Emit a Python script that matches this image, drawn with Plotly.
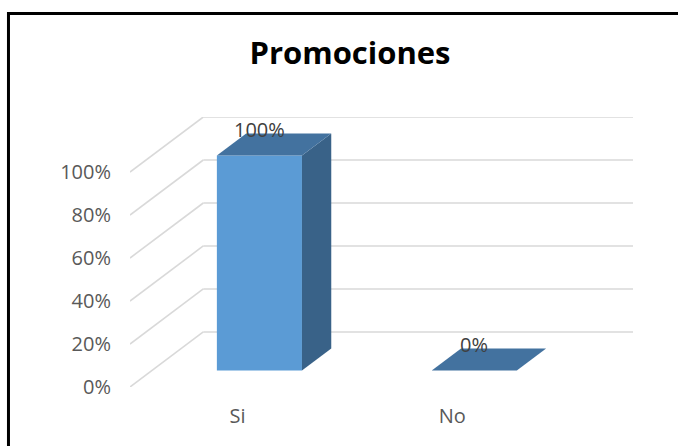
import plotly.graph_objects as go

# Chart data
categories = ["Si", "No"]
values = [1.0, 0.0]
tick_values = [0.0, 0.2, 0.4, 0.6, 0.8, 1.0]

# Oblique-projection geometry (in axis units)
DX = 0.341          # horizontal shift of the full floor depth, category units
DY = 0.256          # vertical shift of the full floor depth, value units
FRONT, BACK = 0.3, 0.7   # depth band occupied by the columns
BAR_W = 0.396       # column width, category units

FRONT_COLOR = "#5B9BD5"
SIDE_COLOR = "#396288"
TOP_COLOR = "#43729F"
GRID_COLOR = "#D9D9D9"
FONT = "Open Sans"

X_MIN, X_MAX = -0.5, len(categories) - 0.5 + DX
Y_MAX = max(tick_values) + DY

fig = go.Figure()

# Wall gridlines (drawn beneath the columns): diagonal on the side wall,
# horizontal on the back wall
for v in tick_values:
    fig.add_shape(type="line", xref="x", yref="y", layer="below",
                  x0=X_MIN, y0=v, x1=X_MIN + DX, y1=v + DY,
                  line=dict(color=GRID_COLOR, width=1.6))
    fig.add_shape(type="line", xref="x", yref="y", layer="below",
                  x0=X_MIN + DX, y0=v + DY, x1=X_MAX, y1=v + DY,
                  line=dict(color=GRID_COLOR, width=1.6))

# Side and top faces of each column
for i, v in enumerate(values):
    cx = i + FRONT * DX
    left, right = cx - BAR_W / 2, cx + BAR_W / 2
    base = FRONT * DY
    ddx, ddy = (BACK - FRONT) * DX, (BACK - FRONT) * DY
    if v > 0:
        fig.add_trace(go.Scatter(
            x=[right, right + ddx, right + ddx, right, right],
            y=[base, base + ddy, base + v + ddy, base + v, base],
            mode="lines", fill="toself", fillcolor=SIDE_COLOR,
            line=dict(width=0, color=SIDE_COLOR), hoverinfo="skip"))
    fig.add_trace(go.Scatter(
        x=[left, right, right + ddx, left + ddx, left],
        y=[base + v, base + v, base + v + ddy, base + v + ddy, base + v],
        mode="lines", fill="toself", fillcolor=TOP_COLOR,
        line=dict(width=0, color=TOP_COLOR), hoverinfo="skip"))

# Front faces of the columns
fig.add_trace(go.Bar(
    x=[i + FRONT * DX for i in range(len(categories))],
    y=values,
    base=[FRONT * DY] * len(values),
    width=BAR_W,
    marker=dict(color=FRONT_COLOR, line=dict(width=0)),
    hoverinfo="skip"))

# Value labels above each column
for i, v in enumerate(values):
    fig.add_annotation(
        x=i + FRONT * DX, y=v + BACK * DY,
        text=f"{v:.0%}", showarrow=False,
        yanchor="middle", yshift=4,
        font=dict(family=FONT, size=20, color="#404040"))

# Outer chart border
fig.add_shape(type="rect", xref="paper", yref="paper",
              x0=-0.2416, x1=1.70, y0=-0.25, y1=1.383,
              line=dict(color="black", width=3), fillcolor="rgba(0,0,0,0)")

fig.update_layout(
    width=678, height=446,
    margin=dict(l=130, r=45, t=117, b=59),
    paper_bgcolor="white", plot_bgcolor="white",
    showlegend=False,
    title=dict(text="<b>Promociones</b>", x=350 / 678, xanchor="center",
               y=1 - 53 / 446, yanchor="middle",
               font=dict(family=FONT, size=31, color="black")),
    xaxis=dict(range=[X_MIN, X_MAX], tickvals=list(range(len(categories))),
               ticktext=categories, showgrid=False, zeroline=False,
               showline=False, ticks="", ticklabelstandoff=15,
               tickfont=dict(family=FONT, size=20, color="#595959")),
    yaxis=dict(range=[0, Y_MAX], tickvals=tick_values, tickformat=".0%",
               showgrid=False, zeroline=False, showline=False, ticks="",
               ticklabelstandoff=18,
               tickfont=dict(family=FONT, size=20, color="#595959")),
)

fig.write_html("out.html")
